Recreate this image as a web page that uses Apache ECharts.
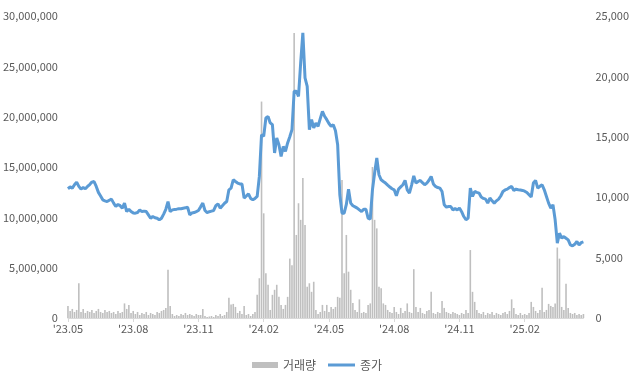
<!DOCTYPE html>
<html>
<head>
<meta charset="utf-8">
<script src="https://cdn.jsdelivr.net/npm/echarts@6/dist/echarts.min.js"></script>
<style>html,body{margin:0;padding:0;background:#fff}#c{width:632px;height:375px}</style>
</head>
<body>
<div id="c"></div>
<script>
// Months covered by the x axis (10 sample slots per month)
const months = ["'23.05","'23.06","'23.07","'23.08","'23.09","'23.10","'23.11","'23.12",
  "'24.01","'24.02","'24.03","'24.04","'24.05","'24.06","'24.07","'24.08","'24.09","'24.10",
  "'24.11","'24.12","'25.01","'25.02","'25.03","'25.04"];
const tickLabels = ["'23.05","'23.08","'23.11","'24.02","'24.05","'24.08","'24.11","'25.02"];
const seriesNames = ["거래량","종가"];

// 거래량 (volume)
const volume = [
1200000,700000,900000,600000,800000,3450000,600000,900000,500000,700000,
600000,800000,500000,700000,900000,600000,500000,800000,600000,700000,
500000,600000,400000,700000,500000,600000,1450000,900000,1300000,500000,
700000,400000,600000,300000,500000,400000,600000,300000,500000,400000,
300000,600000,500000,700000,800000,1000000,4800000,1200000,400000,200000,
300000,200000,400000,300000,500000,300000,400000,300000,200000,400000,
300000,300000,900000,200000,100000,150000,200000,100000,300000,200000,
400000,200000,300000,600000,2000000,1350000,1400000,1100000,500000,700000,
400000,1200000,300000,400000,200000,400000,600000,2300000,3950000,21500000,
10400000,4450000,3300000,800000,2300000,2800000,3300000,2100000,1300000,900000,
1300000,2100000,5900000,5250000,28300000,8250000,11400000,9750000,13900000,9250000,
3100000,3450000,2600000,3600000,800000,400000,600000,1300000,700000,1300000,
600000,1100000,900000,1100000,2100000,2000000,13700000,4450000,8250000,4600000,
2800000,1500000,800000,600000,1850000,500000,600000,500000,1300000,1450000,
15000000,9750000,8900000,3100000,2950000,1450000,1300000,800000,600000,500000,
1100000,600000,400000,1000000,500000,700000,1450000,600000,500000,4850000,
1100000,600000,1000000,500000,400000,700000,800000,2600000,500000,400000,
600000,500000,1700000,1000000,600000,500000,400000,600000,500000,400000,
300000,500000,400000,800000,500000,6750000,2600000,1600000,800000,500000,
400000,600000,300000,500000,400000,600000,300000,500000,400000,300000,
500000,600000,400000,700000,1850000,1000000,400000,300000,500000,300000,
400000,300000,500000,1600000,1100000,700000,500000,800000,3000000,600000,
800000,1400000,1200000,1100000,1450000,7000000,5900000,1100000,800000,3400000,
1000000,500000,400000,500000,300000,400000,300000,400000
];

// 종가 (closing price)
const close = [
10700,10850,10750,11030,11250,10900,10670,10800,10700,10890,
11050,11250,11300,10890,10400,10100,9780,9700,9640,9750,
9840,9510,9230,9400,9300,9090,9510,8810,9010,8810,
8700,8680,8730,8950,8810,8850,8810,8540,8260,8400,
8300,8260,8120,8260,8600,9000,9640,8810,8950,8980,
9010,9050,9050,9090,9120,9180,8540,8700,8730,8810,
8900,9200,9510,8900,8730,8800,8850,8900,9300,9450,
9090,9300,9500,9640,10610,10750,11440,11300,11170,11100,
11090,9930,10100,10280,9900,9780,9900,10060,11720,15170,
15030,16560,16690,16150,16000,13660,14900,14350,13380,14200,
13800,14490,15000,15590,18770,18770,18350,21120,23610,19880,
19180,15590,16420,15730,16140,15860,16500,17110,16700,16420,
16100,15860,16000,15500,14350,10200,8680,8680,9400,10670,
9510,9290,9200,9100,8950,8810,9010,9000,8270,8180,
10610,12000,13240,11860,11440,11300,11170,11000,10840,10700,
10610,10120,10670,10850,11030,11390,10610,10340,11000,11770,
11170,11300,11390,11200,11030,11170,11400,11720,11100,10890,
10800,10750,10470,9370,9180,9230,9230,8950,9050,8950,
9100,8800,8400,8130,8270,10750,10060,10470,10400,10340,
10010,9900,9840,9510,9930,9700,9510,9700,9840,10100,
10470,10600,10670,10800,10890,10560,10670,10620,10600,10560,
10500,10390,10200,10010,11170,11390,10750,10900,11030,10610,
10060,9510,9100,9370,8130,6190,7020,6610,6740,6600,
6470,6050,5970,6100,6330,6050,6240,6300
];

const categories = [];
months.forEach(m => { for (let k = 0; k < 10; k++) categories.push(m + '#' + k); });
const cats = categories.slice(0, close.length);
const showAt = (idx, val) => { const p = val.split('#'); return p[1] === '0' && tickLabels.indexOf(p[0]) >= 0; };

const fam = '"Noto Sans CJK KR", "Noto Sans", sans-serif';
const txt = '#595959';
const chart = echarts.init(document.getElementById('c'), null, {renderer: 'canvas'});
chart.setOption({
  animation: false,
  textStyle: {fontFamily: fam},
  grid: {left: 67, right: 48.5, top: 16, bottom: 57, containLabel: false},
  legend: [
    {data: [seriesNames[0]], left: 247, top: 354, itemWidth: 26, itemHeight: 6, itemGap: 4,
     icon: 'rect', textStyle: {color: txt, fontSize: 12, fontFamily: fam}},
    {data: [seriesNames[1]], left: 323, top: 354, itemWidth: 27, itemHeight: 3, itemGap: 4,
     icon: 'rect', textStyle: {color: txt, fontSize: 12, fontFamily: fam}}
  ],
  xAxis: {
    type: 'category', data: cats, boundaryGap: false,
    axisLine: {show: true, lineStyle: {color: '#d9d9d9', width: 1}},
    axisTick: {show: true, interval: showAt, length: 4, lineStyle: {color: '#d9d9d9'}},
    axisLabel: {interval: showAt, formatter: v => v.split('#')[0], color: txt, fontSize: 11, margin: 5, fontFamily: fam},
    splitLine: {show: false}
  },
  yAxis: [
    {type: 'value', min: 0, max: 30000000, interval: 5000000, position: 'left',
     axisLine: {show: false}, axisTick: {show: false}, splitLine: {show: false},
     axisLabel: {color: txt, fontSize: 11, margin: 10, fontFamily: fam, formatter: v => v.toLocaleString('en-US')}},
    {type: 'value', min: 0, max: 25000, interval: 5000, position: 'right',
     axisLine: {show: false}, axisTick: {show: false}, splitLine: {show: false},
     axisLabel: {color: txt, fontSize: 11, margin: 12, fontFamily: fam, formatter: v => v.toLocaleString('en-US')}}
  ],
  series: [
    {name: seriesNames[0], type: 'bar', yAxisIndex: 0, data: volume, barWidth: 1.6,
     itemStyle: {color: '#bfbfbf'}, large: false},
    {name: seriesNames[1], type: 'line', yAxisIndex: 1, data: close, showSymbol: false, symbol: 'none',
     lineStyle: {color: '#5b9bd5', width: 3}, itemStyle: {color: '#5b9bd5'}}
  ]
});
</script>
</body>
</html>
